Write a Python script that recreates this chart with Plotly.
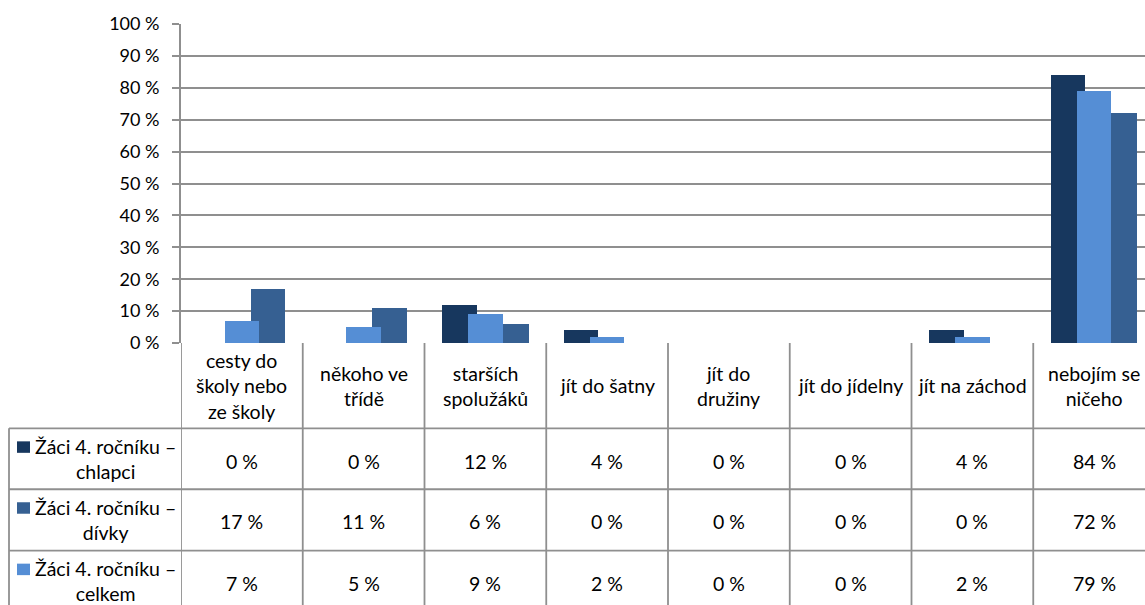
import plotly.graph_objects as go

# --- data -------------------------------------------------------------
categories = [
    "cesty do<br>školy nebo<br>ze školy",
    "někoho ve<br>třídě",
    "starších<br>spolužáků",
    "jít do šatny",
    "jít do<br>družiny",
    "jít do jídelny",
    "jít na záchod",
    "nebojím se<br>ničeho",
]
chlapci = [0, 0, 12, 4, 0, 0, 4, 84]
divky = [17, 11, 6, 0, 0, 0, 0, 72]
celkem = [7, 5, 9, 2, 0, 0, 2, 79]
series_names = [
    "Žáci 4. ročníku –<br>chlapci",
    "Žáci 4. ročníku –<br>dívky",
    "Žáci 4. ročníku –<br>celkem",
]
y_ticks = list(range(0, 101, 10))
y_tick_text = [f"{v} %" for v in y_ticks]

# --- layout constants --------------------------------------------------
W, H = 1145, 605
L, T, B = 181, 24, 343.5
PLOT_W = W - L
PLOT_H = B - T
CAT_PX = 121.75
FONT = "Lato, 'Open Sans', sans-serif"
GRID = "#8f8f8f"
LW = 1.8
TXT = 19.5
C_DARK, C_MID, C_LIGHT = "#17375E", "#366092", "#558ED5"

BAR_W = 0.283
STEP = 0.2136


def px_x(px):
    return (px - L) / PLOT_W


def px_y(py):
    return (B - py) / PLOT_H


x_idx = list(range(len(categories)))

fig = go.Figure()
# drawn dark, medium, then light on top (overlapping clustered columns)
for vals, color, off in [
    (chlapci, C_DARK, -STEP - BAR_W / 2),
    (divky, C_MID, STEP - BAR_W / 2),
    (celkem, C_LIGHT, -BAR_W / 2),
]:
    fig.add_trace(go.Bar(
        x=x_idx, y=vals, width=BAR_W, offset=off,
        marker=dict(color=color, line=dict(width=0)),
        showlegend=False, hoverinfo="skip",
    ))

shapes = []
annotations = []

# table: vertical cell borders at category boundaries
for k in range(len(categories) + 1):
    shapes.append(dict(type="line", xref="x", yref="paper",
                       x0=k - 0.5, x1=k - 0.5, y0=0, y1=px_y(H + 10),
                       line=dict(color=GRID, width=LW)))
# left border of the series-label column
shapes.append(dict(type="line", xref="paper", yref="paper",
                   x0=px_x(9), x1=px_x(9), y0=px_y(429), y1=px_y(H + 10),
                   line=dict(color=GRID, width=LW)))
# horizontal row borders
row_tops = [429, 490, 551.5]
for ry in row_tops:
    shapes.append(dict(type="line", xref="paper", yref="paper",
                       x0=px_x(9), x1=1.02, y0=px_y(ry), y1=px_y(ry),
                       line=dict(color=GRID, width=LW)))

# header row: category names
for k, cat in enumerate(categories):
    annotations.append(dict(x=k, y=px_y(386.5), xref="x", yref="paper",
                            text=cat, showarrow=False, xanchor="center",
                            yanchor="middle", align="center",
                            font=dict(family=FONT, size=TXT, color="#000")))

# data rows
row_h = 61.5
series_rows = [(chlapci, C_DARK), (divky, C_MID), (celkem, C_LIGHT)]
for r, ((vals, color), name) in enumerate(zip(series_rows, series_names)):
    top = row_tops[r]
    cy = top + row_h / 2
    annotations.append(dict(x=px_x(105), y=px_y(cy), xref="paper", yref="paper",
                            text=name, showarrow=False, xanchor="center",
                            yanchor="middle", align="center",
                            font=dict(family=FONT, size=TXT, color="#000")))
    sq_top = top + 13
    shapes.append(dict(type="rect", xref="paper", yref="paper",
                       x0=px_x(17), x1=px_x(30), y0=px_y(sq_top), y1=px_y(sq_top + 11.5),
                       fillcolor=color, line=dict(width=0)))
    for k, v in enumerate(vals):
        annotations.append(dict(x=k, y=px_y(cy + 2), xref="x", yref="paper",
                                text=f"{v} %", showarrow=False, xanchor="center",
                                yanchor="middle",
                                font=dict(family=FONT, size=TXT, color="#000")))

fig.update_layout(
    width=W, height=H,
    margin=dict(l=L, r=0, t=T, b=H - B, pad=0),
    paper_bgcolor="white", plot_bgcolor="white",
    barmode="overlay", bargap=0,
    shapes=shapes, annotations=annotations,
    font=dict(family=FONT, color="#000"),
)
fig.update_xaxes(
    range=[-0.5, -0.5 + PLOT_W / CAT_PX],
    showticklabels=False, showgrid=False, zeroline=False, showline=False,
    ticks="",
)
fig.update_yaxes(
    range=[0, 100], tickvals=y_ticks, ticktext=y_tick_text,
    showgrid=True, gridcolor=GRID, gridwidth=LW,
    zeroline=False, showline=True, linecolor=GRID, linewidth=LW,
    ticks="outside", ticklen=7, tickcolor=GRID, tickwidth=LW,
    ticklabelstandoff=9,
    tickfont=dict(family=FONT, size=18, color="#000"),
)

fig.write_html("out.html")
